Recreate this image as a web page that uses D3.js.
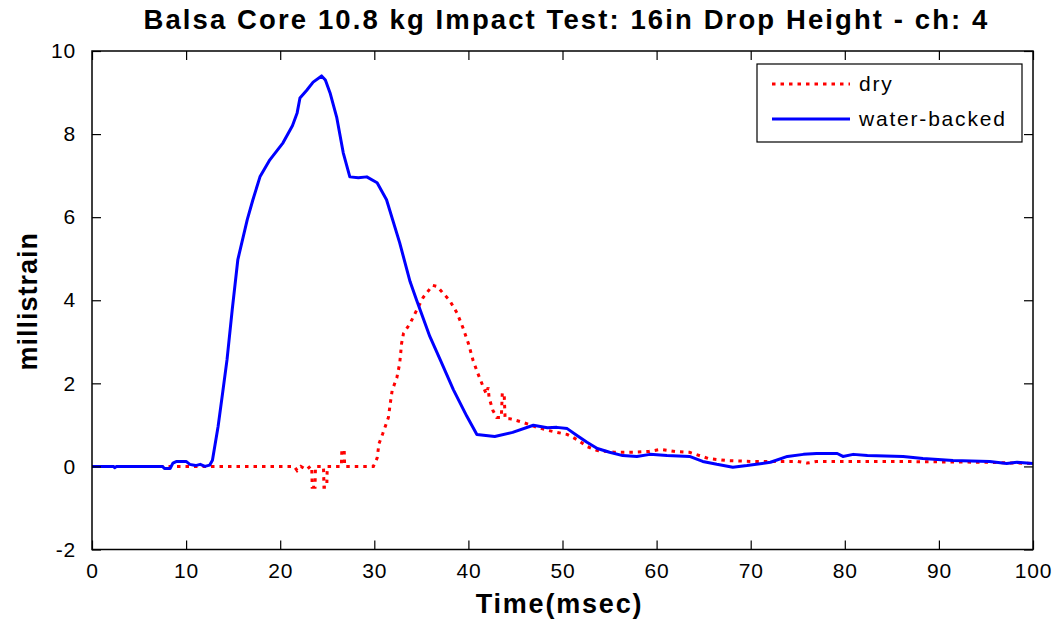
<!DOCTYPE html>
<html>
<head>
<meta charset="utf-8">
<script src="https://cdn.jsdelivr.net/npm/d3@7/dist/d3.min.js"></script>
<style>
  html, body { margin: 0; padding: 0; background: #fff; }
  svg { display: block; }
  text { font-family: "Liberation Sans", Arial, sans-serif; fill: #000; }
</style>
</head>
<body>
<svg id="chart" width="1058" height="624"></svg>
<script>
// Strain gauge channel 4, time in msec, strain in millistrain
const dryTime = [0, 21.5, 21.8, 22.2, 22.8, 23.2, 23.35, 23.4, 23.7, 23.75, 24.6, 24.65, 24.95, 25.0,
  26.5, 26.55, 26.8, 26.85, 29.9, 30.3, 30.5, 30.9, 31.5, 31.7, 31.9, 32.4, 32.7, 32.9, 33.1, 33.8,
  34.5, 35.2, 36.2, 36.7, 37.3, 38.0, 38.8, 39.4, 40.0, 40.5, 41.0, 41.6, 41.9, 42.1, 42.2, 42.6,
  43.0, 43.5, 43.6, 43.8, 43.9, 44.4, 45.8, 47.3, 48.4, 49.4, 50.5, 51.5, 52.6, 53.7, 55.5, 57.5,
  59.2, 60.4, 62.0, 63.5, 65.5, 67.5, 70, 75, 76, 77, 85, 95, 100];
const dryStrain = [0, 0, -0.1, 0, -0.08, 0, 0, -0.5, -0.5, 0, 0, -0.5, -0.5, 0,
  0, 0.4, 0.4, 0, 0, 0.2, 0.55, 0.79, 1.18, 1.52, 1.83, 2.14, 2.48, 2.96, 3.2, 3.44,
  3.76, 4.07, 4.36, 4.33, 4.17, 4.0, 3.69, 3.35, 2.96, 2.55, 2.24, 1.9, 1.75, 1.9, 1.65, 1.35,
  1.18, 1.18, 1.76, 1.76, 1.15, 1.15, 1.06, 0.94, 0.87, 0.82, 0.77, 0.65, 0.48, 0.38, 0.34, 0.34,
  0.36, 0.41, 0.36, 0.34, 0.19, 0.14, 0.12, 0.12, 0.08, 0.12, 0.12, 0.1, 0.07];

const wetTime = [0, 2.3, 2.4, 2.6, 7.5, 7.7, 8.3, 8.6, 9.0, 10.0, 10.4, 11.0, 11.5, 12.0, 12.5, 12.8,
  13.4, 13.9, 14.35, 14.9, 15.5, 16.5, 17.1, 17.85, 18.9, 20.3, 21.3, 21.8, 22.1, 22.8, 23.5, 24.4,
  24.8, 25.3, 26.0, 26.7, 27.4, 28.3, 29.2, 30.3, 31.3, 32.7, 33.8, 34.5, 35.9, 37.0, 38.4, 39.85,
  40.9, 42.8, 44.7, 46.9, 48.4, 49.4, 50.5, 51.5, 52.6, 53.7, 55.0, 56.4, 57.9, 59.3, 61.1, 63.5,
  64.9, 66.4, 68.1, 69.6, 72.1, 73.9, 75.6, 77.0, 79.2, 79.8, 80.9, 82.4, 86.2, 88.3, 91.5, 95.4,
  97.2, 98.3, 100];
const wetStrain = [0, 0, -0.03, 0, 0, -0.05, -0.05, 0.08, 0.12, 0.12, 0.05, 0.02, 0.05, 0.0, 0.03, 0.15,
  0.96, 1.8, 2.57, 3.77, 4.98, 5.94, 6.42, 6.97, 7.38, 7.79, 8.2, 8.51, 8.87, 9.05, 9.25, 9.4,
  9.3, 8.99, 8.41, 7.55, 6.97, 6.95, 6.97, 6.83, 6.42, 5.38, 4.45, 4.0, 3.13, 2.57, 1.85, 1.2,
  0.77, 0.72, 0.82, 0.99, 0.93, 0.94, 0.91, 0.75, 0.58, 0.43, 0.34, 0.26, 0.24, 0.29, 0.26, 0.24,
  0.12, 0.05, -0.02, 0.02, 0.1, 0.24, 0.29, 0.31, 0.31, 0.24, 0.29, 0.26, 0.24, 0.19, 0.14, 0.12,
  0.07, 0.1, 0.07];

const xTicks = [0, 10, 20, 30, 40, 50, 60, 70, 80, 90, 100];
const yTicks = [-2, 0, 2, 4, 6, 8, 10];
const seriesNames = ["dry", "water-backed"];
const titleText = "Balsa Core 10.8 kg Impact Test: 16in Drop Height - ch: 4";
const xLabel = "Time(msec)";
const yLabel = "millistrain";

const svg = d3.select("#chart");
const plot = { left: 92, right: 1033, top: 51, bottom: 549.5 };

const x = d3.scaleLinear().domain([0, 100]).range([plot.left, plot.right]);
const y = d3.scaleLinear().domain([-2, 10]).range([plot.bottom, plot.top]);

const dry = dryTime.map((t, i) => [t, dryStrain[i]]);
const wet = wetTime.map((t, i) => [t, wetStrain[i]]);

const line = d3.line().x(d => x(d[0])).y(d => y(d[1]));

// clip traces to the axes box
svg.append("defs").append("clipPath").attr("id", "clip")
  .append("rect")
  .attr("x", plot.left).attr("y", plot.top)
  .attr("width", plot.right - plot.left).attr("height", plot.bottom - plot.top);

const traces = svg.append("g").attr("clip-path", "url(#clip)");

traces.append("path")
  .datum(dry)
  .attr("d", line)
  .attr("fill", "none")
  .attr("stroke", "#ff0000")
  .attr("stroke-width", 3)
  .attr("stroke-dasharray", "3.5,5");

traces.append("path")
  .datum(wet)
  .attr("d", line)
  .attr("fill", "none")
  .attr("stroke", "#0000ff")
  .attr("stroke-width", 3)
  .attr("stroke-linejoin", "round");

// axes with inward ticks on all four sides
const tickLen = 9;
const fmt = v => String(v);   // plain hyphen for negatives

const bottomAxis = d3.axisBottom(x).tickValues(xTicks).tickSize(-tickLen).tickPadding(14).tickFormat(fmt);
const topAxis = d3.axisTop(x).tickValues(xTicks).tickSize(-tickLen).tickFormat("");
const leftAxis = d3.axisLeft(y).tickValues(yTicks).tickSize(-tickLen).tickPadding(16).tickFormat(fmt);
const rightAxis = d3.axisRight(y).tickValues(yTicks).tickSize(-tickLen).tickFormat("");

function styleAxis(g) {
  g.select(".domain").remove();
  g.selectAll(".tick line").attr("stroke", "#000").attr("stroke-width", 1.2);
  g.selectAll(".tick text")
    .style("font-size", "21px")
    .style("letter-spacing", "0.8px")
    .style("font-family", "'Liberation Sans', Arial, sans-serif");
}

svg.append("g").attr("transform", `translate(0,${plot.bottom})`).call(bottomAxis).call(styleAxis);
svg.append("g").attr("transform", `translate(0,${plot.top})`).call(topAxis).call(styleAxis);
svg.append("g").attr("transform", `translate(${plot.left},0)`).call(leftAxis).call(styleAxis);
svg.append("g").attr("transform", `translate(${plot.right},0)`).call(rightAxis).call(styleAxis);

svg.append("rect")
  .attr("x", plot.left).attr("y", plot.top)
  .attr("width", plot.right - plot.left).attr("height", plot.bottom - plot.top)
  .attr("fill", "none").attr("stroke", "#000").attr("stroke-width", 1.5);

// title and axis labels
svg.append("text")
  .attr("x", (plot.left + plot.right) / 2 + 4).attr("y", 29)
  .attr("text-anchor", "middle")
  .style("font-size", "27.5px").style("font-weight", "bold")
  .style("letter-spacing", "2.1px")
  .text(titleText);

svg.append("text")
  .attr("x", (plot.left + plot.right) / 2 - 3).attr("y", 613)
  .attr("text-anchor", "middle")
  .style("font-size", "27px").style("font-weight", "bold")
  .style("letter-spacing", "1.8px")
  .text(xLabel);

svg.append("text")
  .attr("transform", `translate(37,${(plot.top + plot.bottom) / 2 + 1}) rotate(-90)`)
  .attr("text-anchor", "middle")
  .style("font-size", "27px").style("font-weight", "bold")
  .style("letter-spacing", "1px")
  .text(yLabel);

// legend
const legend = svg.append("g");
legend.append("rect")
  .attr("x", 757).attr("y", 64).attr("width", 265).attr("height", 78)
  .attr("fill", "#fff").attr("stroke", "#000").attr("stroke-width", 1.2);

const legendRows = [
  { name: seriesNames[0], color: "#ff0000", dash: "3.5,5", yPos: 84 },
  { name: seriesNames[1], color: "#0000ff", dash: null, yPos: 119 }
];
legendRows.forEach(r => {
  legend.append("line")
    .attr("x1", 772).attr("x2", 850).attr("y1", r.yPos).attr("y2", r.yPos)
    .attr("stroke", r.color).attr("stroke-width", 3)
    .attr("stroke-dasharray", r.dash);
  legend.append("text")
    .attr("x", 859).attr("y", r.yPos + 7)
    .style("font-size", "21px")
    .style("letter-spacing", "1.8px")
    .text(r.name);
});
</script>
</body>
</html>
